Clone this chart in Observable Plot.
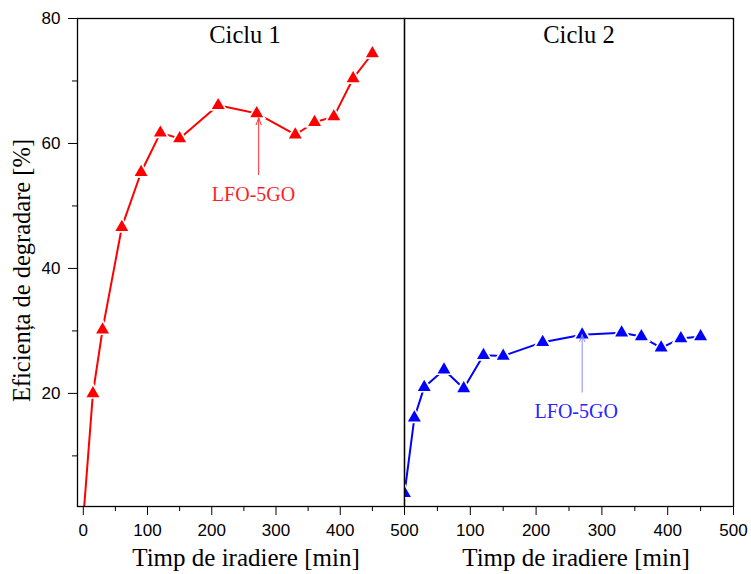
<!DOCTYPE html>
<html><head><meta charset="utf-8">
<script src="https://cdn.jsdelivr.net/npm/d3@7"></script>
<script src="https://cdn.jsdelivr.net/npm/@observablehq/plot@0.6"></script>
<style>
body{margin:0;background:#fff}
#chart{position:relative;width:751px;height:574px;overflow:hidden}
#chart svg{position:absolute;top:0}
</style>
</head><body><div id="chart"></div>
<script>
// ---- data ----
const panelTitles = ["Ciclu 1", "Ciclu 2"];
const xLabel = "Timp de iradiere [min]";
const yLabel = "Eficiența de degradare [%]";
const sampleLabel = "LFO-5GO";

const timeCycle1 = [0, 15, 30, 60, 90, 120, 150, 210, 270, 330, 360, 390, 420, 450];
const effCycle1  = [0, 20, 30.2, 46.6, 55.4, 61.7, 60.8, 66.1, 64.8, 61.4, 63.4, 64.3, 70.4, 74.4];
const timeCycle2 = [0, 15, 30, 60, 90, 120, 150, 210, 270, 330, 360, 390, 420, 450];
const effCycle2  = [4.0, 16.1, 21.0, 23.8, 20.8, 26.1, 26.0, 28.2, 29.4, 29.7, 29.1, 27.3, 28.8, 29.1];

// annotation (arrow from label up to the point) per cycle
const arrowX    = [273, 270];
const arrowFrom = [55.0, 20.2];
const arrowTo   = [64.1, 29.4];
const labelX    = [265, 261];
const labelY    = [51.8, 17.1];

const yMajorTicks = [20, 40, 60, 80];
const yMinorTicks = [10, 30, 50, 70];
const xMajorTicks = [0, 100, 200, 300, 400, 500];
const xMinorTicks = [50, 150, 250, 350, 450];

const colors = ["#ff0000", "#0000ff"];
const labelColors = ["#ff1f1f", "#2626ff"];
const arrowColors = ["#ff3030", "#8a8aff"];

const serif = "'Liberation Serif', 'Times New Roman', serif";
const sans = "'Liberation Sans', Arial, sans-serif";

function panel(i, opts) {
  const data = (i === 0 ? timeCycle1 : timeCycle2).map((t, k) => ({t, e: (i === 0 ? effCycle1 : effCycle2)[k]}));
  const marks = [];
  if (i === 0) {
    marks.push(
      Plot.axisY(yMajorTicks, {tickSize: 9, tickPadding: 8, label: null}),
      Plot.axisY(yMinorTicks, {tickSize: 5, tickFormat: () => "", label: null}),
      Plot.text([yLabel], {frameAnchor: "left", rotate: -90, dx: -55, dy: 8, fontFamily: serif, fontSize: 24.5, textAnchor: "middle", lineAnchor: "middle", fill: "black"})
    );
  }
  marks.push(
    Plot.axisX(xMajorTicks, {tickSize: 9, tickPadding: 8, label: null, tickFormat: d => (i === 1 && d === 0) ? "" : d}),
    Plot.axisX(xMinorTicks, {tickSize: 5, tickFormat: () => "", label: null}),
    Plot.text([xLabel], {frameAnchor: "bottom", dy: 51, dx: opts.xLabelDx, fontFamily: serif, fontSize: 25, textAnchor: "middle", lineAnchor: "middle", fill: "black"}),
    Plot.text([panelTitles[i]], {frameAnchor: "top", dy: 17, dx: opts.titleDx, fontFamily: serif, fontSize: 24.5, textAnchor: "middle", lineAnchor: "middle", fill: "black"}),
    Plot.line(data, {x: "t", y: "e", stroke: colors[i], strokeWidth: 2, clip: true}),
    Plot.dot(data, {x: "t", y: "e", symbol: "triangle", r: 7, fill: "white", stroke: "none", clip: true}),
    Plot.dot(data, {x: "t", y: "e", symbol: "triangle", r: 4.8, fill: colors[i], stroke: "none", clip: true}),
    Plot.arrow([0], {x1: () => arrowX[i], x2: () => arrowX[i], y1: () => arrowFrom[i], y2: () => arrowTo[i], stroke: arrowColors[i], strokeWidth: 1, headLength: 11, headAngle: 40}),
    Plot.text([sampleLabel], {x: () => labelX[i], y: () => labelY[i], fill: labelColors[i], fontFamily: serif, fontSize: 20, textAnchor: "middle", lineAnchor: "middle"}),
    Plot.frame({stroke: "black", strokeWidth: 1.3})
  );
  const svg = Plot.plot({
    width: opts.width, height: 574,
    marginLeft: opts.marginLeft, marginRight: opts.marginRight, marginTop: 18, marginBottom: 68,
    style: {background: "transparent", fontFamily: sans, fontSize: "17px", color: "black", overflow: "visible"},
    x: {domain: opts.xDomain},
    y: {domain: [1.9, 80], axis: null},
    marks
  });
  svg.style.left = opts.left + "px";
  return svg;
}

const chart = document.getElementById("chart");
chart.appendChild(panel(0, {left: 0, width: 430, marginLeft: 77, marginRight: 26, xDomain: [-9, 500], xLabelDx: 5, titleDx: 4}));
chart.appendChild(panel(1, {left: 380, width: 371, marginLeft: 24, marginRight: 18, xDomain: [0, 500], xLabelDx: 7, titleDx: 10}));
</script>
</body></html>
